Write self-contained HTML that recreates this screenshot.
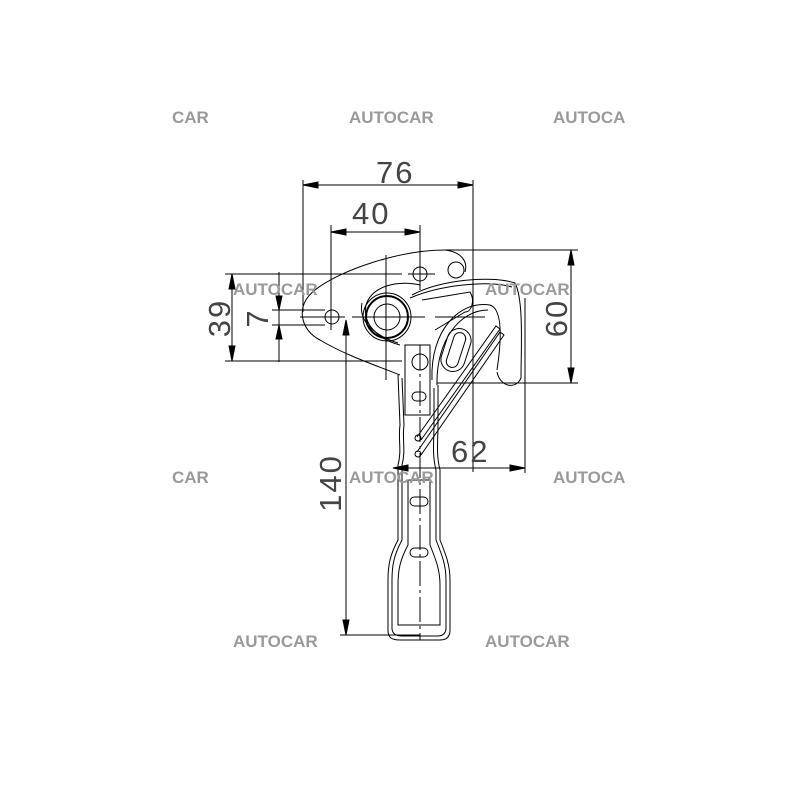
<!DOCTYPE html>
<html><head><meta charset="utf-8"><style>
html,body{margin:0;padding:0;background:#fff;}
svg{display:block}
.w{font-family:"Liberation Sans",sans-serif;font-weight:bold;font-size:17px;fill:#9a9a9a;}
.d{font-family:"Liberation Sans",sans-serif;font-size:31px;fill:#444;letter-spacing:2px;}
</style></head><body>
<svg width="800" height="800" viewBox="0 0 800 800" xmlns="http://www.w3.org/2000/svg">
<g stroke="#000" stroke-width="1" fill="none">
<line x1="303" y1="180" x2="303" y2="312"/>
<line x1="473" y1="180" x2="473" y2="472"/>
<line x1="318" y1="185" x2="458" y2="185"/>
<path d="M303,185 l15,-3 v6z M473,185 l-15,-3 v6z" fill="#000"/>
<line x1="331" y1="225" x2="331" y2="330"/>
<line x1="420" y1="225" x2="420" y2="290"/>
<line x1="346" y1="232" x2="405" y2="232"/>
<path d="M331,232 l15,-3 v6z M420,232 l-15,-3 v6z" fill="#000"/>
<line x1="225" y1="274" x2="402" y2="274"/>
<line x1="225" y1="361" x2="402" y2="361"/>
<line x1="232" y1="289" x2="232" y2="346"/>
<path d="M232,274 l-3,15 h6z M232,361 l-3,-15 h6z" fill="#000"/>
<line x1="272" y1="310" x2="325" y2="310"/>
<line x1="272" y1="325" x2="325" y2="325"/>
<line x1="279" y1="272" x2="279" y2="362"/>
<path d="M279,310 l-3,-14 h6z M279,325 l-3,14 h6z" fill="#000"/>
<line x1="445" y1="250" x2="578" y2="250"/>
<line x1="437" y1="383" x2="578" y2="383"/>
<line x1="571" y1="265" x2="571" y2="368"/>
<path d="M571,250 l-3,15 h6z M571,383 l-3,-15 h6z" fill="#000"/>
<line x1="525" y1="298" x2="525" y2="473"/>
<line x1="408" y1="468" x2="510" y2="468"/>
<path d="M393,468 l15,-3 v6z M525,468 l-15,-3 v6z" fill="#000"/>
<line x1="346" y1="335" x2="346" y2="620"/>
<line x1="340" y1="635" x2="420" y2="635"/>
<path d="M346,320 l-3,15 h6z M346,635 l-3,-15 h6z" fill="#000"/>
<line x1="386" y1="255" x2="386" y2="380"/>
<line x1="300" y1="317" x2="345" y2="317"/>
<line x1="352" y1="317" x2="425" y2="317"/>
<line x1="435" y1="317" x2="485" y2="317"/>
<line x1="408" y1="274" x2="435" y2="274"/>
<line x1="420" y1="345" x2="420" y2="640" stroke-dasharray="25,4,3,4"/>
<path d="M445,250 C400,250 340,270 315,290 C295,305 300,330 320,340 C345,355 375,365 400,375"/>
<path d="M445,250 C462,252 468,262 465,272"/>
<circle cx="456" cy="270" r="8"/>
<circle cx="332" cy="317" r="7"/>
<circle cx="420" cy="274" r="7"/>
<circle cx="420" cy="362" r="8"/>
<circle cx="387" cy="317" r="13"/>
<circle cx="387" cy="317" r="21" stroke-width="2"/>
<circle cx="387" cy="317" r="24"/>
<path d="M412,295 C440,280 490,275 515,283 C524,300 521,350 521,378 C516,390 500,387 497,372"/>
<path d="M410,298 C440,285 488,280 512,287"/>
<path d="M400,345 C380,340 362,325 366,305 C372,285 400,280 420,285"/>
<path d="M398,343 C376,336 358,322 362,303"/>
<path d="M432,380 C430,330 460,300 490,305 C505,310 500,350 497,370"/>
<path d="M437,385 C436,340 460,310 488,310"/>
<path d="M422,300 L470,292 C475,300 472,312 465,312 L435,330"/>
<rect x="450" y="332" width="12" height="36" rx="6" transform="rotate(18 456 350)"/>
<rect x="444" y="328" width="24" height="44" rx="12" transform="rotate(18 456 350)"/>
<path d="M417,437 L496,326 L500,329 L421,440"/>
<path d="M417,452 L500,332 L504,335 L421,455"/>
<circle cx="418" cy="438" r="3"/>
<circle cx="418" cy="454" r="3"/>
<path d="M398,375 L400,425 C398,440 402,450 398,465 L398,540 C390,555 388,565 388,580 L388,630 C388,638 392,640 400,640 L440,640 C447,640 450,636 450,630 L450,580 C450,565 446,555 440,540 L440,470 C436,455 438,440 438,425 L438,385"/>
<path d="M402,378 L404,425 C402,440 406,450 402,465 L402,540 C394,555 392,565 392,580 L392,628 C392,634 396,636 402,636 L438,636 C444,636 446,632 446,628 L446,580 C446,565 442,555 436,540 L436,470 C432,455 434,440 434,425 L434,388"/>
<path d="M408,480 L408,545 C400,560 398,570 398,585 L398,625 L440,625 L440,585 C440,570 436,560 430,545 L430,480 Z"/>
<rect x="405" y="345" width="25" height="70"/>
<rect x="412" y="392" width="14" height="9" rx="4.5"/>
<rect x="410" y="497" width="18" height="9" rx="4.5"/>
<rect x="410" y="548" width="18" height="9" rx="4.5"/>
</g>
<text class="d" x="376" y="183">76</text>
<text class="d" x="352" y="224">40</text>
<text class="d" x="451" y="462">62</text>
<text class="d" transform="translate(230,318) rotate(-90)" text-anchor="middle">39</text>
<text class="d" transform="translate(268,318) rotate(-90)" text-anchor="middle">7</text>
<text class="d" transform="translate(567,318) rotate(-90)" text-anchor="middle">60</text>
<text class="d" transform="translate(341,483) rotate(-90)" text-anchor="middle">140</text>
<g class="w">
<text x="172" y="123">CAR</text>
<text x="349" y="123">AUTOCAR</text>
<text x="553" y="123">AUTOCA</text>
<text x="233" y="295">AUTOCAR</text>
<text x="485" y="295">AUTOCAR</text>
<text x="172" y="483">CAR</text>
<text x="349" y="483">AUTOCAR</text>
<text x="553" y="483">AUTOCA</text>
<text x="233" y="647">AUTOCAR</text>
<text x="485" y="647">AUTOCAR</text>
</g>
</svg>
</body></html>
